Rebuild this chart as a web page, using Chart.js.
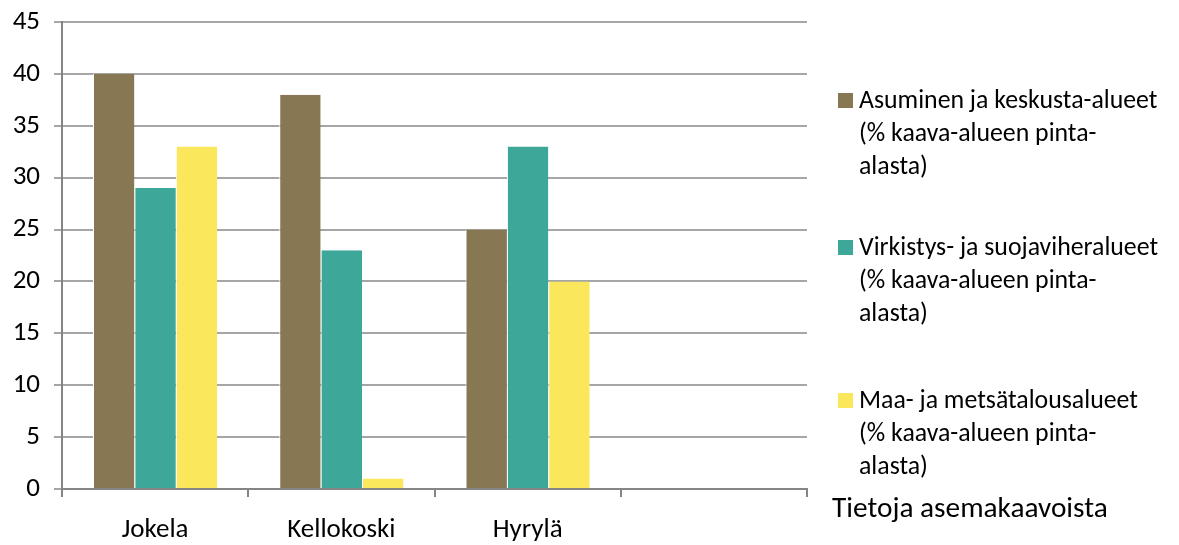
<!DOCTYPE html>
<html>
<head>
<meta charset="utf-8">
<script src="https://cdn.jsdelivr.net/npm/chart.js@4.4.1/dist/chart.umd.min.js"></script>
<style>
  body { margin: 0; background: #fff; font-family: Carlito, Lato, sans-serif; }
  #wrap { position: relative; width: 1179px; height: 545px; }
  #legend { position: absolute; left: 838px; top: 83px; width: 340px; color: #000; }
  .item { position: relative; padding-left: 21px; font-size: 25.8px; line-height: 33px; white-space: nowrap; }
  .item span.box { position: absolute; left: 0; top: 10px; width: 15px; height: 15px; }
  #caption { position: absolute; left: 832px; top: 489px; font-size: 29.3px; line-height: 36px; color: #000; white-space: nowrap; }
</style>
</head>
<body>
<div id="wrap">
  <canvas id="chart" width="1179" height="545"></canvas>
  <div id="legend"></div>
  <div id="caption">Tietoja asemakaavoista</div>
</div>
<script>
// data
var places = ['Jokela', 'Kellokoski', 'Hyrylä', ''];
var asuminen = [40, 38, 25, null];
var virkistys = [29, 23, 33, null];
var maatalous = [33, 1, 20, null];
var seriesNames = [
    'Asuminen ja keskusta-alueet (% kaava-alueen pinta-alasta)',
    'Virkistys- ja suojaviheralueet (% kaava-alueen pinta-alasta)',
    'Maa- ja metsätalousalueet (% kaava-alueen pinta-alasta)'
];
var legendLines = [
    ['Asuminen ja keskusta-alueet', '(% kaava-alueen pinta-', 'alasta)'],
    ['Virkistys- ja suojaviheralueet', '(% kaava-alueen pinta-', 'alasta)'],
    ['Maa- ja metsätalousalueet', '(% kaava-alueen pinta-', 'alasta)']
];
var colors = ['#877752', '#3DA79A', '#FAE75C'];
var yTicks = [0, 5, 10, 15, 20, 25, 30, 35, 40, 45];

var font = { family: 'Carlito, Lato, sans-serif', size: 27 };

const ctx = document.getElementById('chart').getContext('2d');
const chart = new Chart(ctx, {
    type: 'bar',
    data: {
        labels: places,
        datasets: [asuminen, virkistys, maatalous].map(function(d, i) {
            return {
                label: seriesNames[i],
                data: d,
                backgroundColor: colors[i],
                borderColor: '#ffffff',
                borderWidth: { left: 1, right: 0, top: 0, bottom: 0 },
                categoryPercentage: 0.667,
                barPercentage: 1.0
            };
        })
    },
    options: {
        responsive: false,
        animation: false,
        devicePixelRatio: 1,
        layout: { padding: { top: 22, right: 372, left: 0, bottom: 0 } },
        plugins: { legend: { display: false }, tooltip: { enabled: false } },
        scales: {
            x: {
                offset: true,
                grid: { offset: true, drawOnChartArea: false, drawTicks: true, tickLength: 8, color: '#858585', lineWidth: 2 },
                border: { color: '#858585', width: 2 },
                ticks: { color: '#000', font: font, padding: 17 },
                afterFit: function(s) { s.height = 56; }
            },
            y: {
                min: 0,
                max: 45,
                afterBuildTicks: function(s) { s.ticks = yTicks.map(function(v) { return { value: v }; }); },
                grid: { color: '#A6A6A6', lineWidth: 2, tickLength: 8 },
                border: { color: '#858585', width: 2 },
                ticks: { color: '#000', font: font, padding: 14 },
                afterFit: function(s) { s.width = 62; s.paddingTop = 0; s.paddingBottom = 0; }
            }
        }
    }
});

// legend as html so lines wrap like the original
var lg = document.getElementById('legend');
var gaps = [48, 54, 0];
legendLines.forEach(function(lines, i) {
    var div = document.createElement('div');
    div.className = 'item';
    div.style.marginBottom = gaps[i] + 'px';
    div.innerHTML = '<span class="box" style="background:' + colors[i] + '"></span>' + lines.join('<br>');
    lg.appendChild(div);
});
</script>
</body>
</html>
